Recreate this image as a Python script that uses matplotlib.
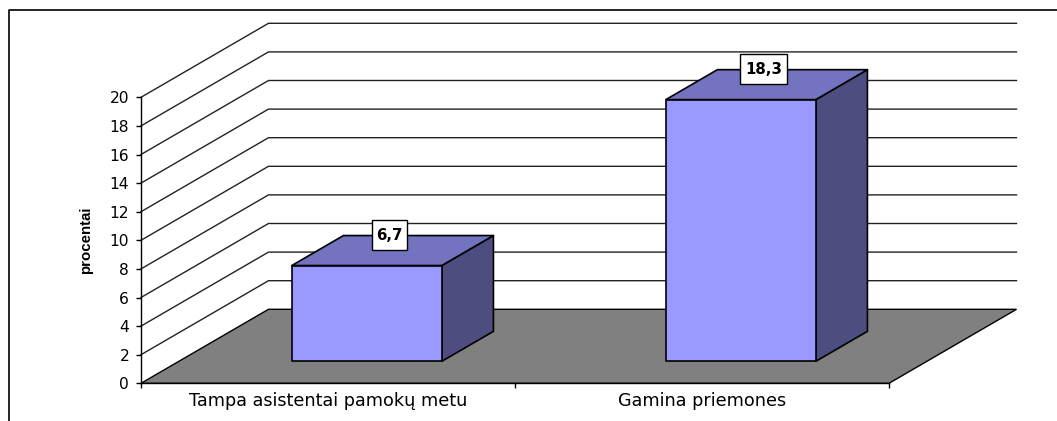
import matplotlib
matplotlib.use("Agg")
import matplotlib.pyplot as plt
from matplotlib.lines import Line2D
from matplotlib.patches import Polygon, Rectangle

categories = ["Tampa asistentai pamokų metu", "Gamina priemones"]
values = [6.7, 18.3]
value_labels = ["6,7", "18,3"]
y_ticks = list(range(0, 21, 2))
y_label = "procentai"

W, H = 1057, 421
X0, Y0 = 141.0, 383.3       # pixel position of the origin
PX_CAT, PX_VAL = 374.0, 14.3
DX, DY = 127.5 / PX_CAT, 74.0 / PX_VAL   # oblique depth vector in data units
BAR_L, BAR_W = 0.302, 0.401
Z0, Z1 = 0.297, 0.702
BOX_W_PX = [35.0, 46.6]
BOX_H_PX = 30.0

plt.rcParams["font.family"] = ["DejaVu Sans"]
fig = plt.figure(figsize=(W / 100, H / 100), dpi=100, facecolor="white")
ax = fig.add_axes([0, 0, 1, 1], facecolor="none")
ax.set_xlim(-X0 / PX_CAT, (W - X0) / PX_CAT)
ax.set_ylim(-(H - Y0) / PX_VAL, Y0 / PX_VAL)


def proj(x, y, z):
    return (x + z * DX, y + z * DY)


LW = 1.0
EDGE = "black"

# floor
ax.add_patch(Polygon([proj(0, 0, 0), proj(2, 0, 0), proj(2, 0, 1), proj(0, 0, 1)],
                     closed=True, fc="#808080", ec=EDGE, lw=LW, zorder=2))
# gridlines on the side and back walls
for t in y_ticks[1:]:
    pts = [proj(0, t, 0), proj(0, t, 1), proj(2, t, 1)]
    ax.plot([p[0] for p in pts], [p[1] for p in pts], color="#222222", lw=LW, zorder=1)

# bars
for i, v in enumerate(values):
    l, r = i + BAR_L, i + BAR_L + BAR_W
    side = [proj(r, 0, Z0), proj(r, 0, Z1), proj(r, v, Z1), proj(r, v, Z0)]
    top = [proj(l, v, Z0), proj(r, v, Z0), proj(r, v, Z1), proj(l, v, Z1)]
    front = [proj(l, 0, Z0), proj(r, 0, Z0), proj(r, v, Z0), proj(l, v, Z0)]
    for poly, col in ((side, "#4D4D80"), (top, "#7373BF"), (front, "#9999FF")):
        ax.add_patch(Polygon(poly, closed=True, fc=col, ec=EDGE, lw=1.2,
                             joinstyle="round", zorder=3))
    cx = proj((l + r) / 2, v, (Z0 + Z1) / 2)[0] - 3 / PX_CAT
    cy = proj(l, v, Z1)[1] + 0.5 / PX_VAL
    bw, bh = BOX_W_PX[i] / PX_CAT, BOX_H_PX / PX_VAL
    ax.add_patch(Rectangle((cx - bw / 2, cy - bh / 2), bw, bh, fc="white",
                           ec="black", lw=1.0, zorder=5))
    ax.text(cx, cy, value_labels[i], ha="center", va="center", fontsize=10.8,
            fontweight="bold", color="black", zorder=6)

# axes
for s in ("top", "right"):
    ax.spines[s].set_visible(False)
ax.spines["left"].set_position(("data", 0))
ax.spines["bottom"].set_position(("data", 0))
ax.spines["left"].set_bounds(0, 20)
ax.spines["bottom"].set_bounds(0, 2)
for s in ("left", "bottom"):
    ax.spines[s].set_linewidth(LW)
    ax.spines[s].set_zorder(4)
ax.set_yticks(y_ticks)
ax.set_yticklabels([str(t) for t in y_ticks], fontsize=11.2)
ax.set_xticks([0, 1, 2])
ax.set_xticklabels([])
ax.set_xticks([0.5, 1.5], minor=True)
ax.set_xticklabels(categories, minor=True, fontsize=12.7)
ax.tick_params(axis="x", which="minor", length=0, pad=6.5)
ax.tick_params(axis="x", which="major", length=3.5, width=LW)
ax.tick_params(axis="y", length=3.5, width=LW, pad=5)

fig.text(86 / W, 1 - 240 / H, y_label, rotation=90, ha="center", va="center",
         fontsize=10.8, fontweight="bold", family="Liberation Sans")

# chart frame, open on the right and at the bottom
fig.add_artist(Line2D([8.7 / W, 8.7 / W, 1.0], [0, 1 - 9.7 / H, 1 - 9.7 / H],
                      transform=fig.transFigure, color="black", lw=1.2))

fig.savefig("out.png", dpi=100)
